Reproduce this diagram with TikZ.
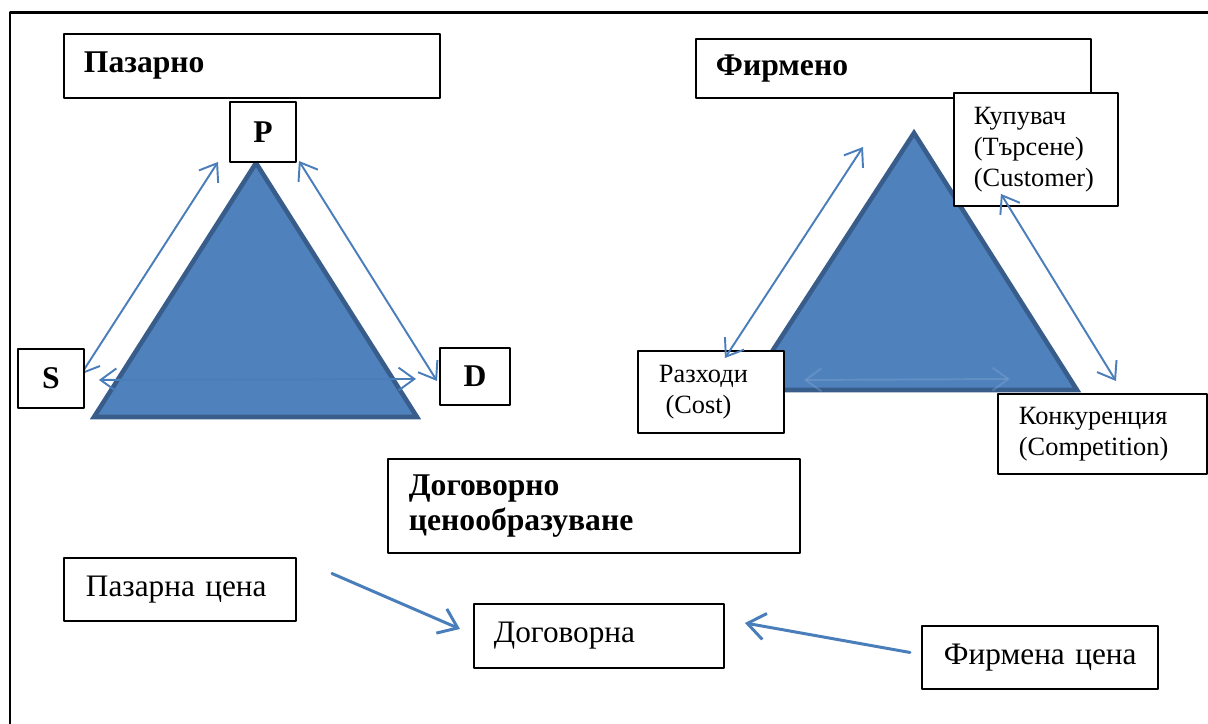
\documentclass[tikz,border=0pt]{standalone}
\usepackage{fontspec}
\setmainfont{Liberation Serif}
\usepackage{tikz}
\usetikzlibrary{arrows.meta}
\usetikzlibrary{calc}
\definecolor{trifill}{HTML}{4F81BD}
\definecolor{triedge}{HTML}{385D8A}
\definecolor{arrowblue}{HTML}{4A7EBB}
\pgfdeclarelayer{back}
\pgfsetlayers{back,main}

\begin{document}
\begin{tikzpicture}[
		x=0.02cm, y=-0.02cm,
		line join=round, line cap=round,
		box/.style={draw=black, line width=1.1pt, fill=white, anchor=north west, inner ysep=0pt, align=left},
		headbox/.style={box, font=\fontsize{18}{19.5}\selectfont\bfseries},
		labelbox/.style={box, font=\fontsize{15}{17.5}\selectfont},
		pricebox/.style={box, font=\fontsize{17.8}{20}\selectfont},
		letterbox/.style={draw=black, line width=1.1pt, fill=white, anchor=north west, inner sep=0pt, font=\fontsize{18}{19.5}\selectfont\bfseries},
		link/.style={arrowblue, line width=1.1pt, {Straight Barb[length=9pt,width=13pt]}-{Straight Barb[length=9pt,width=13pt]}},
		push/.style={arrowblue, line width=1.7pt, -{Straight Barb[length=10pt,width=15pt]}},
		tri/.style={fill=trifill, draw=triedge, line width=2.6pt}
	]
	\useasboundingbox (0,0) rectangle (1208,724);

	% Frame
	\draw[line width=1.2pt] (10,724) -- (10,12.5) -- (1208,12.5);

	% Market pricing
	\node[headbox, text width=6.72cm, inner xsep=0.4cm, minimum height=1.28cm] (mkt) at (63,33) {Пазарно};
	\node[letterbox, minimum width=1.32cm, minimum height=1.2cm] (P) at (229,101) {P};
	\node[letterbox, minimum width=1.32cm, minimum height=1.18cm] (S) at (17,348) {S};
	\node[letterbox, minimum width=1.4cm, minimum height=1.14cm] (D) at (439,347) {D};

	\coordinate (Ltop) at (256,163);
	\coordinate (Lleft) at (94,417);
	\coordinate (Lright) at (417,417);

	\begin{pgfonlayer}{back}
		\filldraw[tri] (Ltop) -- (Lleft) -- (Lright) -- cycle;
		\draw[link] ([shift={(-4,-4)}]S.east) -- ([shift={(-11,-1)}]P.south west);
		\draw[link] ([shift={(2,-2)}]P.south east) -- ([shift={(-2,4.5)}]D.west);
		\draw[link] ([shift={(14,1.5)}]S.east) -- ([shift={(-23,2.5)}]D.west);
	\end{pgfonlayer}

	% Firm pricing
	\node[headbox, text width=7.1cm, inner xsep=0.4cm, minimum height=1.18cm] (firm) at (695,38) {Фирмено};

	\coordinate (Rtop) at (914,133);
	\coordinate (Rleft) at (747,390);
	\coordinate (Rright) at (1077,390);

	\begin{pgfonlayer}{back}
		\filldraw[tri] (Rtop) -- (Rleft) -- (Rright) -- cycle;
	\end{pgfonlayer}

	\node[labelbox, text width=2.48cm, inner xsep=0.4cm, minimum height=2.26cm] (buyer) at (953,92) {Купувач\\(Търсене)\\(Customer)};
	\node[labelbox, text width=2.08cm, inner xsep=0.42cm, minimum height=1.64cm] (cost) at (637,350) {Разходи\\\hspace*{0.25em}(Cost)};
	\node[labelbox, text width=3.34cm, inner xsep=0.42cm, minimum height=1.6cm] (comp) at (997,393) {Конкуренция\\(Competition)};

	\draw[link] ([shift={(14,8)}]cost.north) -- ([shift={(-51,14)}]Rtop);
	\draw[link] ([shift={(-35,-13)}]buyer.south) -- ([shift={(13.5,-12)}]comp.north);
	\draw[link, color=arrowblue!70!white, opacity=0.4] ([shift={(19,-12)}]cost.east) -- ([shift={(13,-14)}]comp.north west);

	% Negotiated pricing
	\node[headbox, text width=7.4cm, inner xsep=0.42cm, minimum height=1.88cm] (deal) at (387,458) {Договорно\\ценообразуване};
	\node[pricebox, text width=3.76cm, inner xsep=0.44cm, minimum height=1.26cm] (mktprice) at (63,557) {Пазарна~цена};
	\node[pricebox, text width=4.2cm, inner xsep=0.4cm, minimum height=1.28cm] (dealprice) at (473,603) {Договорна};
	\node[pricebox, text width=3.84cm, inner xsep=0.44cm, minimum height=1.26cm] (firmprice) at (921,625) {Фирмена~цена};

	\draw[push] ([shift={(35,-16)}]mktprice.east) -- ([shift={(-13,-7)}]dealprice.west);
	\draw[push] ([shift={(-11,-5)}]firmprice.west) -- ([shift={(20,-13)}]dealprice.east);
\end{tikzpicture}
\end{document}
